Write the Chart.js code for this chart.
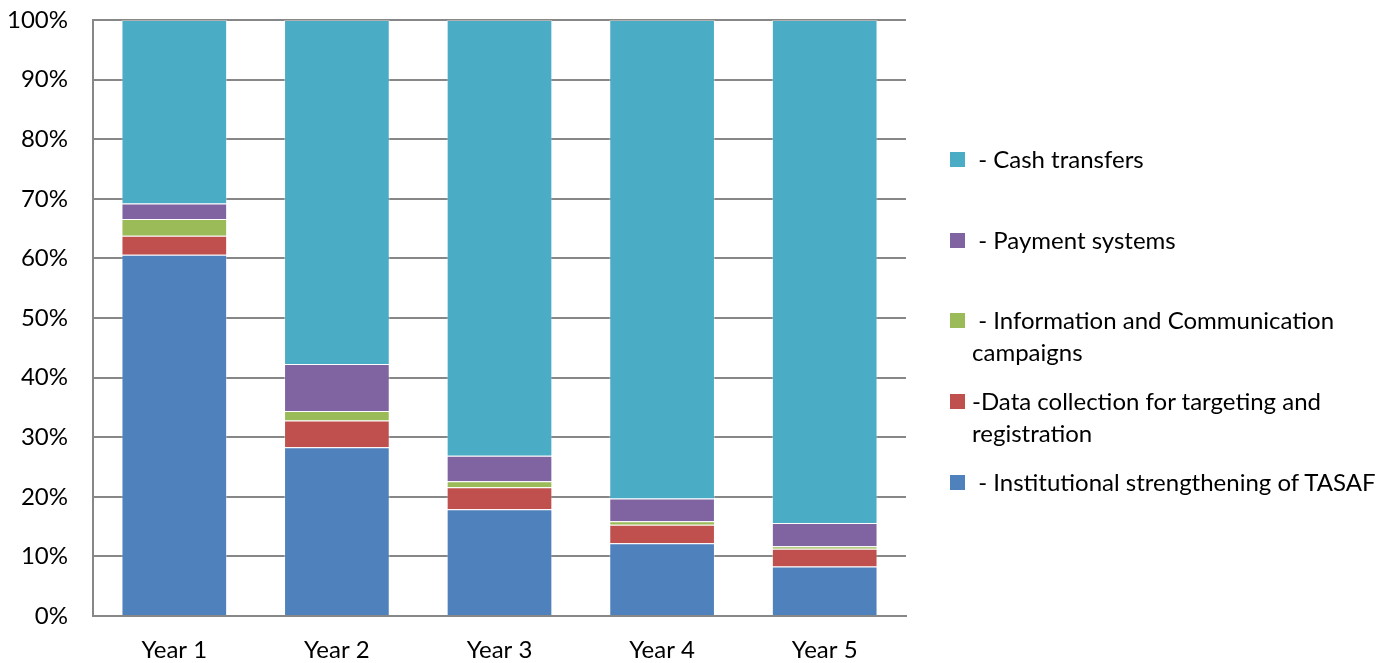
<!DOCTYPE html>
<html>
<head>
<meta charset="utf-8">
<script src="https://cdn.jsdelivr.net/npm/chart.js@4/dist/chart.umd.min.js"></script>
<style>
  html, body { margin: 0; padding: 0; background: #fff; }
  #wrap { position: relative; width: 1385px; height: 663px; }
  #legend { position: absolute; left: 0; top: 0; }
  .item { position: absolute; left: 950px; width: 435px; font-family: Lato, "Open Sans", sans-serif; font-size: 24px; line-height: 32px; color: #000; }
  .box { position: absolute; left: 0; top: 9px; width: 15px; height: 15px; }
  .txt { position: absolute; left: 22px; width: 413px; white-space: pre-wrap; }
</style>
</head>
<body>
<div id="wrap">
  <canvas id="grafica" width="1385" height="663"></canvas>
  <div id="legend"></div>
</div>
<script>
// Datos (porcentaje de cada componente por año)
const years = ['Year 1', 'Year 2', 'Year 3', 'Year 4', 'Year 5'];
const institutional = [60.6, 28.3, 17.9, 12.2, 8.3];
const dataCollection = [3.2, 4.5, 3.7, 3.1, 3.0];
const infoComm = [2.8, 1.6, 1.0, 0.6, 0.4];
const payment = [2.6, 7.9, 4.3, 3.8, 3.9];
const cash = [30.8, 57.7, 73.1, 80.3, 84.4];
const yTicks = [0, 10, 20, 30, 40, 50, 60, 70, 80, 90, 100];

const fuente = 'Lato, "Open Sans", sans-serif';

function serie(label, data, color) {
    return {
        label: label,
        data: data,
        backgroundColor: color,
        borderColor: 'rgba(255,255,255,0.35)',
        borderWidth: 1,
        barPercentage: 0.65,
        categoryPercentage: 1
    };
}

const datasets = [
    serie(' - Institutional strengthening of TASAF', institutional, '#4F81BD'),
    serie('-Data collection for targeting and registration', dataCollection, '#C0504D'),
    serie(' - Information and Communication campaigns', infoComm, '#9BBB59'),
    serie(' - Payment systems', payment, '#8064A2'),
    serie(' - Cash transfers', cash, '#4BACC6')
];

const chart = new Chart(document.getElementById('grafica').getContext('2d'), {
    type: 'bar',
    data: { labels: years, datasets: datasets },
    options: {
        responsive: false,
        animation: false,
        layout: { padding: { top: 0, right: 479, bottom: 0, left: 0 } },
        plugins: { legend: { display: false }, tooltip: { enabled: false } },
        scales: {
            x: {
                stacked: true,
                afterFit: function(scale) { scale.height = 47; },
                grid: { display: false, drawTicks: false },
                border: { display: true, color: '#878787', width: 2 },
                ticks: { color: '#000', font: { family: fuente, size: 24 }, padding: 20 }
            },
            y: {
                stacked: true,
                min: 0,
                max: 100,
                afterFit: function(scale) {
                    scale.width = 93;
                    scale.paddingTop = 20;
                    scale.paddingBottom = 0;
                },
                afterBuildTicks: function(scale) { scale.ticks = yTicks.map(v => ({ value: v })); },
                grid: { color: '#878787', lineWidth: 2, drawTicks: false },
                border: { display: true, color: '#878787', width: 2 },
                ticks: {
                    color: '#000',
                    font: { family: fuente, size: 24 },
                    padding: 25,
                    callback: function(v) { return v + '%'; }
                }
            }
        }
    }
});

// Leyenda en HTML (orden inverso, como en el original)
const legend = document.getElementById('legend');
datasets.slice().reverse().forEach(function(ds, i) {
    const item = document.createElement('div');
    item.className = 'item';
    item.style.top = (143 + i * 80.7) + 'px';
    item.innerHTML = '<div class="box" style="background:' + ds.backgroundColor + '"></div>' +
        '<div class="txt"></div>';
    item.querySelector('.txt').textContent = ds.label;
    legend.appendChild(item);
});
</script>
</body>
</html>
